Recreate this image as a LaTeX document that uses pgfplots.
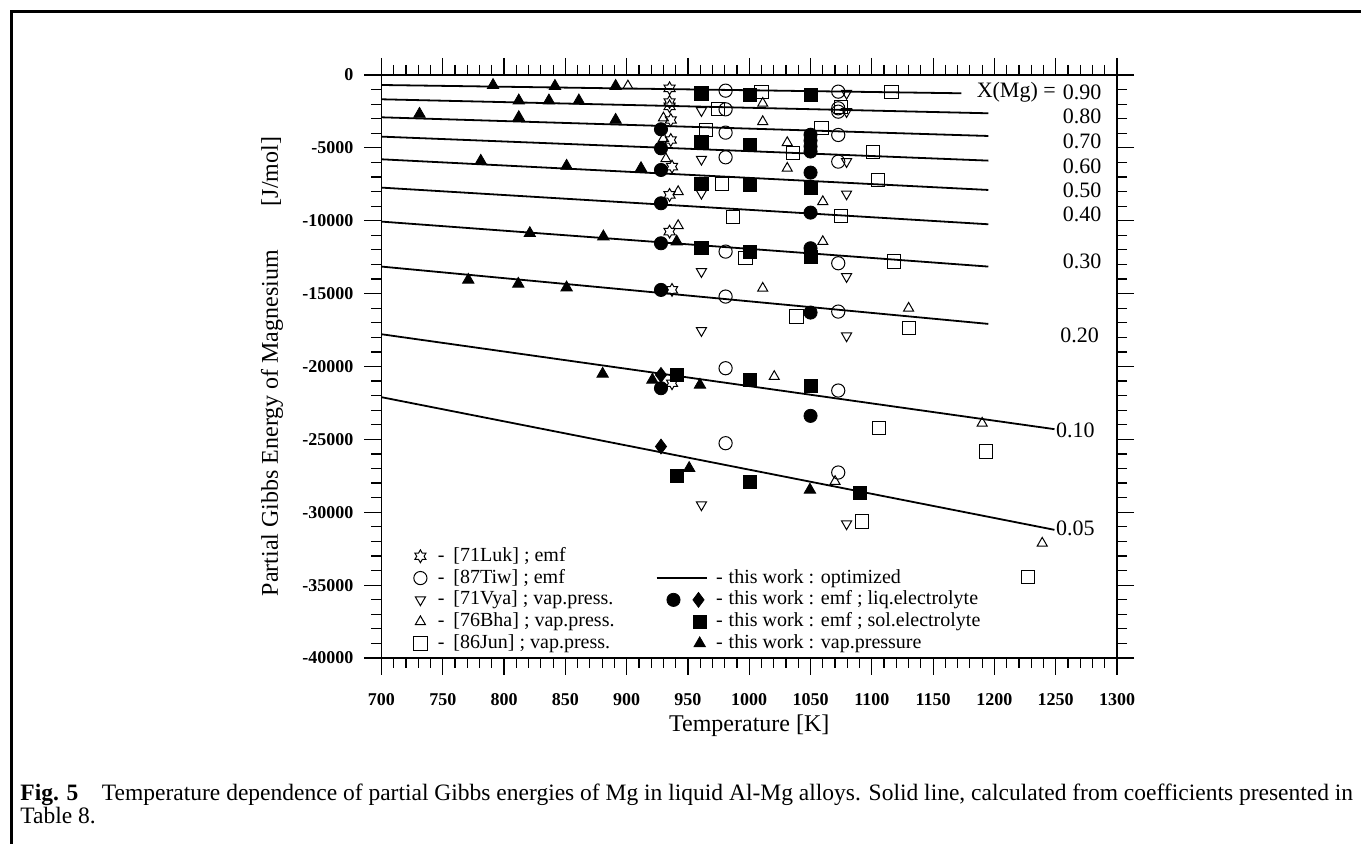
\documentclass[border=0pt]{standalone}
\usepackage{fontspec}
\setmainfont{Liberation Serif}
\usepackage{pgfplots}
\pgfplotsset{compat=1.18}

% open six-pointed star
\pgfdeclareplotmark{hexstar}{%
  \pgfpathmoveto{\pgfpointpolar{90}{\pgfplotmarksize}}%
  \pgfpathlineto{\pgfpointpolar{120}{0.577\pgfplotmarksize}}%
  \pgfpathlineto{\pgfpointpolar{150}{\pgfplotmarksize}}%
  \pgfpathlineto{\pgfpointpolar{180}{0.577\pgfplotmarksize}}%
  \pgfpathlineto{\pgfpointpolar{210}{\pgfplotmarksize}}%
  \pgfpathlineto{\pgfpointpolar{240}{0.577\pgfplotmarksize}}%
  \pgfpathlineto{\pgfpointpolar{270}{\pgfplotmarksize}}%
  \pgfpathlineto{\pgfpointpolar{300}{0.577\pgfplotmarksize}}%
  \pgfpathlineto{\pgfpointpolar{330}{\pgfplotmarksize}}%
  \pgfpathlineto{\pgfpointpolar{0}{0.577\pgfplotmarksize}}%
  \pgfpathlineto{\pgfpointpolar{30}{\pgfplotmarksize}}%
  \pgfpathlineto{\pgfpointpolar{60}{0.577\pgfplotmarksize}}%
  \pgfpathclose
  \pgfusepathqstroke}

\begin{document}
\begin{tikzpicture}
\begin{axis}[
  at={(0,0)}, anchor=south west,
  scale only axis, width=367.75pt, height=291.5pt,
  xmin=700, xmax=1300, ymin=-40000, ymax=0,
  xtick={700,750,...,1300}, ytick={-40000,-35000,...,0},
  minor x tick num=4, minor y tick num=4,
  tick align=outside, major tick length=8.5pt, minor tick length=5pt,
  axis line style={line width=0.8pt},
  every tick/.style={black, line width=0.6pt},
  scaled y ticks=false,
  /pgf/number format/1000 sep={},
  /pgf/number format/assume math mode=true,
  ticklabel style={font=\fontsize{9}{9}\selectfont\bfseries},
  xticklabel style={anchor=base, yshift=-15.5pt},
  yticklabel style={anchor=east, xshift=-2pt},
  xlabel={Temperature [K]},
  xlabel style={at={(axis description cs:0.5,0)}, anchor=base, yshift=-37pt,
    font=\fontsize{12}{12}\selectfont},
  ylabel={Partial Gibbs Energy of Magnesium\hspace{22pt}[J/mol]},
  ylabel style={at={(axis description cs:-0.149,0.5)}, anchor=center,
    font=\fontsize{12}{12}\selectfont},
  legend columns=2,
  legend cell align=left,
  legend style={draw=none, fill=none, at={(axis description cs:0.03875,0.1906)},
    anchor=north west, inner sep=0pt, outer sep=0pt, column sep=0pt, row sep=1.5pt,
    font=\fontsize{10}{10}\selectfont,
    nodes={inner sep=0pt, text height=7.2pt, text depth=2.2pt}},
]

% this work : optimized
\addplot[black, line width=0.9pt, forget plot] coordinates {(700,-686) (1173,-1255)};
\addplot[black, line width=0.9pt, forget plot] coordinates {(700,-1667) (1195,-2627)};
\addplot[black, line width=0.9pt, forget plot] coordinates {(700,-2903) (1195,-4184)};
\addplot[black, line width=0.9pt, forget plot] coordinates {(700,-4229) (1195,-5875)};
\addplot[black, line width=0.9pt, forget plot] coordinates {(700,-5784) (1195,-7888)};
\addplot[black, line width=0.9pt, forget plot] coordinates {(700,-7727) (1195,-10242)};
\addplot[black, line width=0.9pt, forget plot] coordinates {(700,-10059) (1195,-13145)};
\addplot[black, line width=0.9pt, forget plot] coordinates {(700,-13145) (1195,-17078)};
\addplot[black, line width=0.9pt, forget plot] coordinates {(700,-17787) (1249,-24300)};
\addplot[black, line width=0.9pt, forget plot] coordinates {(700,-22106) (1249,-31207)};

% [71Luk] emf
\addplot[only marks, mark=hexstar, mark size=3.2pt, black, line width=0.5pt, forget plot] coordinates {
  (935,-914) (935,-1850) (935,-2150) (936,-3086) (936,-4458) (937,-6287)
  (935,-8230) (935,-10746) (937,-14746) (937,-21148)};
% [87Tiw] emf
\addplot[only marks, mark=o, mark size=3.3pt, black, line width=0.5pt, forget plot] coordinates {
  (980.7,-1075) (980.7,-2355) (980.7,-3955) (980.7,-5647) (980.7,-12117)
  (980.7,-15203) (980.7,-20119) (980.7,-25263)
  (1072.6,-1143) (1072.6,-2286) (1072.6,-2515) (1072.6,-4115) (1072.6,-5945)
  (1072.6,-12917) (1072.6,-16232) (1072.6,-21650) (1072.6,-27274)};
% [71Vya] vap.press.
\addplot[only marks, mark=triangle, mark size=2.9pt, mark options={rotate=180}, black, line width=0.5pt, forget plot] coordinates {
  (961,-2446) (961,-5784) (961,-8116) (961,-13489) (961,-17535) (961,-29492)
  (1079.4,-1257) (1079.4,-2515) (1079.4,-5945) (1079.4,-8162) (1079.4,-13832)
  (1079.4,-17901) (1079.4,-30796)};
% [76Bha] vap.press.
\addplot[only marks, mark=triangle, mark size=2.9pt, black, line width=0.5pt, forget plot] coordinates {
  (901,-754) (1011,-1943) (1011,-3200) (1031,-4641) (1031,-6401)
  (930,-2950) (930,-4350) (932,-5750) (942,-8002) (942,-10334)
  (1060,-8688) (1060,-11431) (1011,-14632) (1130,-16004) (1020.4,-20690)
  (1190,-23890) (1070,-27893) (1239,-32122)};
% [86Jun] vap.press.
\addplot[only marks, mark=square, mark size=3.3pt, black, line width=0.5pt, forget plot] coordinates {
  (974.7,-2355) (965,-3772) (1010,-1143) (1075,-2172) (1116,-1143) (1059,-3658)
  (1035.4,-5373) (1101,-5258) (1105,-7202) (978,-7476) (987,-9762) (1075,-9671)
  (997,-12574) (1118,-12803) (1038.6,-16575) (1130,-17375) (1106,-24234)
  (1193,-25834) (1091.7,-30634) (1227.6,-34455)};
% this work : emf ; liq.electrolyte
\addplot[only marks, mark=*, mark size=3.3pt, black, forget plot] coordinates {
  (928,-3726) (928,-5030) (928,-6516) (928,-8802) (928,-11546) (928,-14746) (928,-21490)
  (1050,-4100) (1050,-4500) (1050,-4900) (1050,-5250) (1050,-6698) (1050,-9442)
  (1050,-11888) (1050,-16300) (1050,-23388)};
\addplot[only marks, mark=diamond*, mark size=3.7pt, black, forget plot] coordinates {
  (928,-20576) (928,-25491)};
% this work : emf ; sol.electrolyte
\addplot[only marks, mark=square*, mark size=3.3pt, black, forget plot] coordinates {
  (961,-1257) (1000.6,-1372) (1050,-1372)
  (961,-4572) (1000.6,-4801)
  (961,-7476) (1000.6,-7545) (1050,-7773)
  (961,-11843) (1000.6,-12117) (1050,-12460)
  (941,-20576) (1000.6,-20919) (1050,-21331)
  (941,-27481) (1000.6,-27893) (1090,-28647)};
% this work : vap.pressure
\addplot[only marks, mark=triangle*, mark size=3.3pt, black, forget plot] coordinates {
  (791,-700) (841.5,-760) (891,-760)
  (812,-1760) (836.6,-1760) (861,-1760)
  (731,-2675) (812,-2903) (891,-3086)
  (781,-5898) (851,-6241) (911.7,-6401)
  (821,-10860) (881,-11088) (940.8,-11431)
  (770.8,-14060) (811.6,-14335) (851,-14587)
  (880.4,-20508) (921,-20919) (959.8,-21262)
  (951,-26976) (1049.5,-28464)};

% legend, row by row
\addlegendimage{legend image code/.code={\path (0pt,0pt) (13.5pt,0pt);
  \draw[black, line width=0.5pt, mark=hexstar, mark size=3.2pt] plot coordinates {(5pt,0pt)};}}
\addlegendentry{\makebox[109pt][l]{-\hspace{4.5pt}[71Luk] ; emf}}
\addlegendimage{empty legend}
\addlegendentry{}
\addlegendimage{legend image code/.code={\path (0pt,0pt) (13.5pt,0pt);
  \draw[black, line width=0.5pt, mark=o, mark size=3.3pt] plot coordinates {(5pt,0pt)};}}
\addlegendentry{\makebox[109pt][l]{-\hspace{4.5pt}[87Tiw] ; emf}}
\addlegendimage{legend image code/.code={\path (0pt,0pt) (29.5pt,0pt);
  \draw[black, line width=0.9pt] (0pt,0pt) -- (25pt,0pt);}}
\addlegendentry{-\hspace{3pt}this work : optimized}
\addlegendimage{legend image code/.code={\path (0pt,0pt) (13.5pt,0pt);
  \draw[black, line width=0.5pt, mark=triangle, mark size=2.9pt, mark options={rotate=180}] plot coordinates {(5pt,0pt)};}}
\addlegendentry{\makebox[109pt][l]{-\hspace{4.5pt}[71Vya] ; vap.press.}}
\addlegendimage{legend image code/.code={\path (0pt,0pt) (29.5pt,0pt);
  \draw[black, mark=*, mark size=3.3pt] plot coordinates {(8.4pt,0pt)};
  \draw[black, mark=diamond*, mark size=3.7pt] plot coordinates {(20.9pt,0pt)};}}
\addlegendentry{-\hspace{3pt}this work : emf ; liq.electrolyte}
\addlegendimage{legend image code/.code={\path (0pt,0pt) (13.5pt,0pt);
  \draw[black, line width=0.5pt, mark=triangle, mark size=2.9pt] plot coordinates {(5pt,0pt)};}}
\addlegendentry{\makebox[109pt][l]{-\hspace{4.5pt}[76Bha] ; vap.press.}}
\addlegendimage{legend image code/.code={\path (0pt,0pt) (29.5pt,0pt);
  \draw[black, mark=square*, mark size=3.3pt] plot coordinates {(21.5pt,0pt)};}}
\addlegendentry{-\hspace{3pt}this work : emf ; sol.electrolyte}
\addlegendimage{legend image code/.code={\path (0pt,0pt) (13.5pt,0pt);
  \draw[black, line width=0.5pt, mark=square, mark size=3.3pt] plot coordinates {(5pt,0pt)};}}
\addlegendentry{\makebox[109pt][l]{-\hspace{4.5pt}[86Jun] ; vap.press.}}
\addlegendimage{legend image code/.code={\path (0pt,0pt) (29.5pt,0pt);
  \draw[black, mark=triangle*, mark size=3.3pt] plot coordinates {(21.5pt,0pt)};}}
\addlegendentry{-\hspace{3pt}this work : vap.pressure}

% composition labels
\begin{scope}[every node/.style={inner sep=0pt, font=\fontsize{11}{11}\selectfont}]
\node[anchor=east] at (axis cs:1250.4,-1166) {X(Mg) =};
\node[anchor=west] at (axis cs:1255.5,-1166) {0.90};
\node[anchor=west] at (axis cs:1255.5,-2860) {0.80};
\node[anchor=west] at (axis cs:1255.5,-4575) {0.70};
\node[anchor=west] at (axis cs:1255.5,-6241) {0.60};
\node[anchor=west] at (axis cs:1255.5,-7888) {0.50};
\node[anchor=west] at (axis cs:1255.5,-9534) {0.40};
\node[anchor=west] at (axis cs:1255.5,-12803) {0.30};
\node[anchor=west] at (axis cs:1253.5,-17833) {0.20};
\node[anchor=west] at (axis cs:1250,-24348) {0.10};
\node[anchor=west] at (axis cs:1250,-31091) {0.05};
\end{scope}
\end{axis}

% frame and caption
\draw[line width=1.35pt] (489.75pt,323.25pt) -- (-185pt,323.25pt) -- (-185pt,-93pt);
\node[anchor=base west, align=left, inner sep=0pt, font=\fontsize{11.75}{11.75}\selectfont]
  at (-180.75pt,-83pt)
  {\textbf{Fig. 5}\quad Temperature dependence of partial Gibbs energies of Mg in liquid Al-Mg alloys. Solid line, calculated from coefficients presented in\\Table 8.};

\pgfresetboundingbox
\path[use as bounding box] (-190.75pt,-93pt) rectangle (489.75pt,329pt);
\end{tikzpicture}
\end{document}
